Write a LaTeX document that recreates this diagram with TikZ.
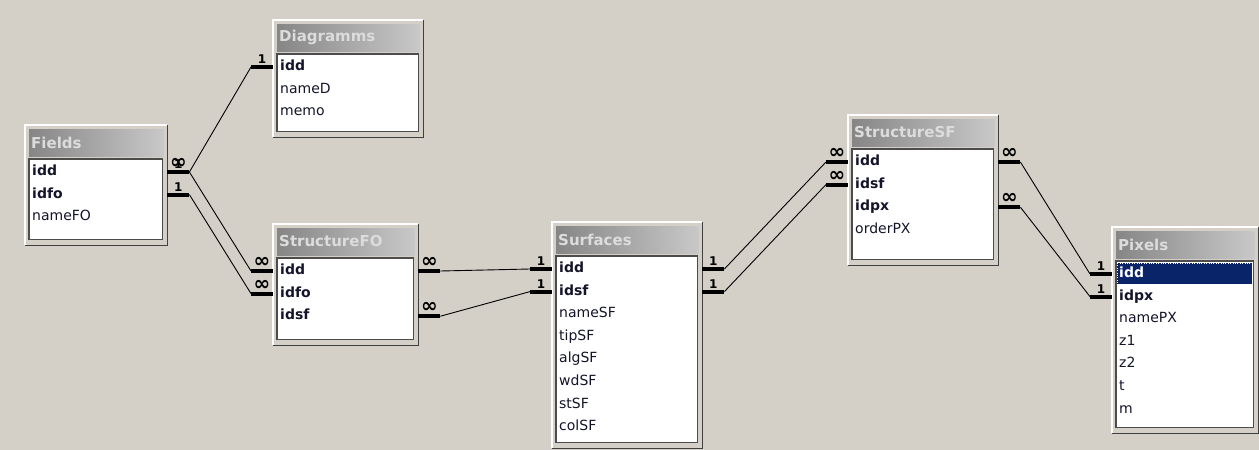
\documentclass[tikz,border=0pt]{standalone}
\usepackage{fontspec}
\setmainfont{DejaVu Sans}
\usetikzlibrary{positioning,calc}

\definecolor{bg}{HTML}{D4D0C8}
\definecolor{titleL}{HTML}{868686}
\definecolor{titleR}{HTML}{C8C8C8}
\definecolor{titletext}{HTML}{DCDCDC}
\definecolor{rowtext}{HTML}{14142A}
\definecolor{selblue}{HTML}{0A246A}

\begin{document}
\begin{tikzpicture}[x=1pt, y=-1pt]
        \tikzstyle{frame} = [rectangle, fill=bg, inner sep=0pt, anchor=north west]
        \tikzstyle{caption} = [anchor=west, inner sep=0pt, text=titletext, font=\fontsize{15}{17}\selectfont\bfseries]
        \tikzstyle{keyrow} = [rectangle, inner xsep=2pt, inner ysep=0pt, minimum height=22.2pt, text height=10pt, text depth=3pt, text=rowtext, font=\fontsize{14}{16}\selectfont\bfseries]
        \tikzstyle{fieldrow} = [keyrow, font=\fontsize{14}{16}\selectfont]
        \tikzstyle{stub} = [draw, line width=4pt]
        \tikzstyle{line} = [draw, line width=0.9pt]
        \tikzstyle{card} = [above, inner sep=1.5pt, font=\fontsize{12}{12}\selectfont\bfseries]

        \useasboundingbox [fill=bg] (0,0) rectangle (1259,450);

        % tables: name / x / y / width / height / caption
        \foreach \id/\x/\y/\w/\h/\cap in {fields/25/125/142/120/Fields, diag/273/20/150/117/Diagramms, sfo/273/224/145/121/StructureFO, surf/552/222/150/226/Surfaces, ssf/848/115/150/150/StructureSF, pix/1112/227/146/206/Pixels} {
            \node [frame, minimum width=\w pt, minimum height=\h pt] (\id) at (\x,\y) {};
            \draw [white, line width=1.2pt] (\id.south west) -- (\id.north west) -- (\id.north east);
            \draw [black!75, line width=1.2pt] (\id.north east) -- (\id.south east) -- (\id.south west);
            \shade [left color=titleL, right color=titleR] ($(\id.north west)+(4,4)$) rectangle ($(\id.north east)+(-4,31)$);
            \node [caption] at ($(\id.north west)+(6,17.5)$) {\cap};
            \draw [fill=white, draw=black!70, line width=1.2pt] ($(\id.north west)+(4,34)$) rectangle ($(\id.south east)+(-5,-6)$);
        }

        % selected row
        \draw [fill=selblue, draw=white, dotted] ($(pix.north west)+(5,36)$) rectangle ($(pix.north east)+(-6,57)$);

        % Fields
        \node [keyrow, anchor=west] (fields-idd) at ($(fields.north west)+(5,47)$) {idd};
        \node [keyrow, below right=0pt and 0pt of fields-idd.south west] (fields-idfo) {idfo};
        \node [fieldrow, below right=0pt and 0pt of fields-idfo.south west] (fields-name) {nameFO};

        % Diagramms
        \node [keyrow, anchor=west] (diag-idd) at ($(diag.north west)+(5,47)$) {idd};
        \node [fieldrow, below right=0pt and 0pt of diag-idd.south west] (diag-name) {nameD};
        \node [fieldrow, below right=0pt and 0pt of diag-name.south west] (diag-memo) {memo};

        % StructureFO
        \node [keyrow, anchor=west] (sfo-idd) at ($(sfo.north west)+(5,47)$) {idd};
        \node [keyrow, below right=0pt and 0pt of sfo-idd.south west] (sfo-idfo) {idfo};
        \node [keyrow, below right=0pt and 0pt of sfo-idfo.south west] (sfo-idsf) {idsf};

        % Surfaces
        \node [keyrow, anchor=west] (surf-idd) at ($(surf.north west)+(5,47)$) {idd};
        \node [keyrow, below right=0pt and 0pt of surf-idd.south west] (surf-idsf) {idsf};
        \node [fieldrow, below right=0pt and 0pt of surf-idsf.south west] (surf-name) {nameSF};
        \node [fieldrow, below right=0pt and 0pt of surf-name.south west] (surf-tip) {tipSF};
        \node [fieldrow, below right=0pt and 0pt of surf-tip.south west] (surf-alg) {algSF};
        \node [fieldrow, below right=0pt and 0pt of surf-alg.south west] (surf-wd) {wdSF};
        \node [fieldrow, below right=0pt and 0pt of surf-wd.south west] (surf-st) {stSF};
        \node [fieldrow, below right=0pt and 0pt of surf-st.south west] (surf-col) {colSF};

        % StructureSF
        \node [keyrow, anchor=west] (ssf-idd) at ($(ssf.north west)+(5,47)$) {idd};
        \node [keyrow, below right=0pt and 0pt of ssf-idd.south west] (ssf-idsf) {idsf};
        \node [keyrow, below right=0pt and 0pt of ssf-idsf.south west] (ssf-idpx) {idpx};
        \node [fieldrow, below right=0pt and 0pt of ssf-idpx.south west] (ssf-order) {orderPX};

        % Pixels
        \node [keyrow, anchor=west, text=white] (pix-idd) at ($(pix.north west)+(5,47)$) {idd};
        \node [keyrow, below right=0pt and 0pt of pix-idd.south west] (pix-idpx) {idpx};
        \node [fieldrow, below right=0pt and 0pt of pix-idpx.south west] (pix-name) {namePX};
        \node [fieldrow, below right=0pt and 0pt of pix-name.south west] (pix-z1) {z1};
        \node [fieldrow, below right=0pt and 0pt of pix-z1.south west] (pix-z2) {z2};
        \node [fieldrow, below right=0pt and 0pt of pix-z2.south west] (pix-t) {t};
        \node [fieldrow, below right=0pt and 0pt of pix-t.south west] (pix-m) {m};

        % relations: table / row / label -- table / row / label
        \foreach \ta/\ra/\la/\tb/\rb/\lb in {fields/fields-idd/{\fontsize{20}{20}\selectfont ∞}/diag/diag-idd/1, fields/fields-idd/1/sfo/sfo-idd/{\fontsize{20}{20}\selectfont ∞}, fields/fields-idfo/1/sfo/sfo-idfo/{\fontsize{20}{20}\selectfont ∞}, sfo/sfo-idd/{\fontsize{20}{20}\selectfont ∞}/surf/surf-idd/1, sfo/sfo-idsf/{\fontsize{20}{20}\selectfont ∞}/surf/surf-idsf/1, surf/surf-idd/1/ssf/ssf-idd/{\fontsize{20}{20}\selectfont ∞}, surf/surf-idsf/1/ssf/ssf-idsf/{\fontsize{20}{20}\selectfont ∞}, ssf/ssf-idd/{\fontsize{20}{20}\selectfont ∞}/pix/pix-idd/1, ssf/ssf-idpx/{\fontsize{20}{20}\selectfont ∞}/pix/pix-idpx/1} {
            \path [line] ($(\ta.east |- \ra)+(22,0)$) -- ($(\tb.west |- \rb)+(-22,0)$);
            \path [stub] (\ta.east |- \ra) -- ++(22,0) node [card, midway] {\la};
            \path [stub] (\tb.west |- \rb) -- ++(-22,0) node [card, midway] {\lb};
        }
    \end{tikzpicture}
\end{document}
